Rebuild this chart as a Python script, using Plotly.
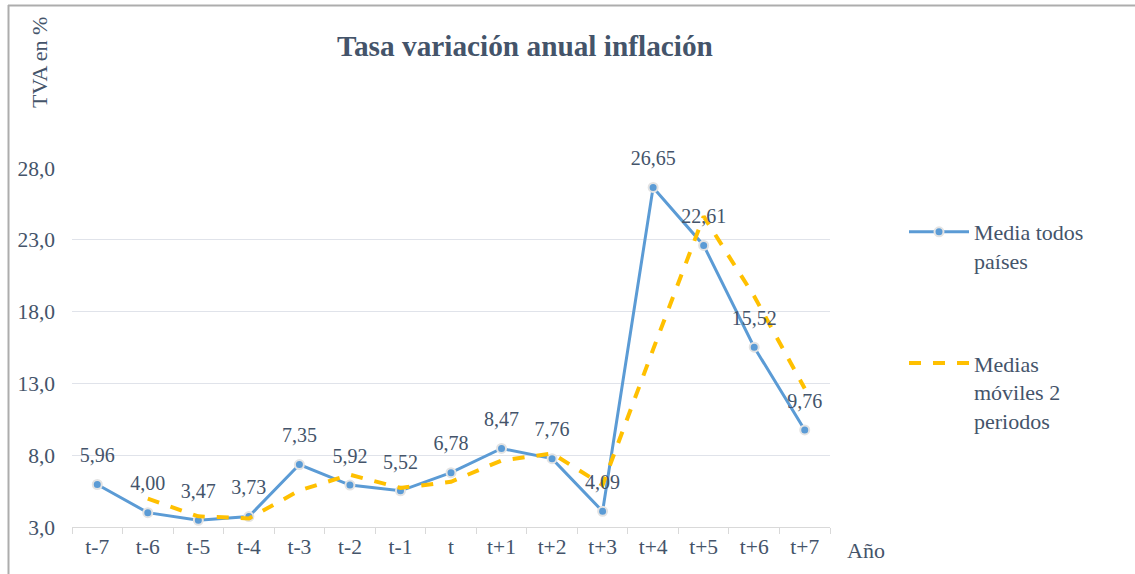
import plotly.graph_objects as go

categories = ["t-7", "t-6", "t-5", "t-4", "t-3", "t-2", "t-1", "t",
              "t+1", "t+2", "t+3", "t+4", "t+5", "t+6", "t+7"]
media_todos = [5.96, 4.00, 3.47, 3.73, 7.35, 5.92, 5.52, 6.78,
               8.47, 7.76, 4.09, 26.65, 22.61, 15.52, 9.76]
medias_moviles = [None, 4.98, 3.74, 3.60, 5.54, 6.64, 5.72, 6.15,
                  7.63, 8.12, 5.93, 15.37, 24.63, 19.07, 12.64]
labels_media = ["5,96", "4,00", "3,47", "3,73", "7,35", "5,92", "5,52", "6,78",
                "8,47", "7,76", "4,09", "26,65", "22,61", "15,52", "9,76"]
y_ticks = [3.0, 8.0, 13.0, 18.0, 23.0, 28.0]
y_tick_labels = ["3,0", "8,0", "13,0", "18,0", "23,0", "28,0"]

W, H = 1135, 574
ML, MR, MT, MB = 72, 305, 168, 47
PW, PH = W - ML - MR, H - MT - MB

def px(x):
    return (x - ML) / PW

def py(y):
    return (H - MB - y) / PH

FONT = "Liberation Serif"
TXT = "#44546A"

fig = go.Figure()
fig.add_trace(go.Scatter(
    x=categories, y=media_todos, name="Media todos<br>países",
    mode="lines+markers",
    line=dict(color="#5B9BD5", width=3),
    marker=dict(size=9, color="#5B9BD5", line=dict(color="#E3E3E3", width=2)),
    legendgroup="a", cliponaxis=False, hoverinfo="skip",
))
fig.add_trace(go.Scatter(
    x=categories, y=medias_moviles, name="Medias<br>móviles 2<br>periodos",
    mode="lines", line=dict(color="#FFC000", width=4, dash="dash"),
    legendgroup="b", cliponaxis=False, hoverinfo="skip",
))
fig.add_trace(go.Scatter(
    x=categories, y=media_todos, mode="markers+text", text=labels_media,
    textposition="top center", showlegend=False, hoverinfo="skip",
    textfont=dict(family=FONT, size=20, color=TXT), cliponaxis=False,
    marker=dict(size=26, color="rgba(0,0,0,0)"),
))

fig.update_layout(
    width=W, height=H, margin=dict(l=ML, r=MR, t=MT, b=MB, autoexpand=False),
    paper_bgcolor="white", plot_bgcolor="white",
    font=dict(family=FONT, size=21, color=TXT),
    title=dict(text="<b>Tasa variación anual inflación</b>", x=525 / W, xanchor="center",
               y=1 - 46 / H, yanchor="middle", font=dict(family=FONT, size=29.3, color=TXT)),
    showlegend=True,
    hovermode=False,
    legend=dict(xref="container", yref="container", x=904 / W, xanchor="left",
                y=1 - 211 / H, yanchor="top", itemwidth=60,
                font=dict(family=FONT, size=22, color=TXT), valign="top",
                tracegroupgap=71, bgcolor="rgba(0,0,0,0)"),
    xaxis=dict(type="category", range=[-0.5, len(categories) - 0.5],
               showgrid=False, showline=True, linecolor="#D9D9D9",
               linewidth=1, ticks="outside", tickson="boundaries", ticklen=6,
               tickcolor="#D9D9D9", tickfont=dict(family=FONT, size=21.5, color=TXT),
               automargin=False),
    yaxis=dict(range=[3, 28], tickvals=y_ticks, ticktext=y_tick_labels,
               showgrid=True, gridcolor="#E0E3EA", gridwidth=1, zeroline=False,
               showline=False, ticks="", ticklabelstandoff=16,
               tickfont=dict(family=FONT, size=21.5, color=TXT),
               automargin=False),
    annotations=[
        dict(text="TVA en %", xref="paper", yref="paper", x=px(40), y=py(63),
             xanchor="center", yanchor="middle", textangle=-90, showarrow=False,
             font=dict(family=FONT, size=22, color=TXT)),
        dict(text="Año", xref="paper", yref="paper", x=px(845), y=py(550),
             xanchor="left", yanchor="middle", showarrow=False,
             font=dict(family=FONT, size=22, color=TXT)),
    ],
    shapes=[
        dict(type="line", xref="paper", yref="paper", x0=px(8), x1=px(W + 5),
             y0=py(5.5), y1=py(5.5), line=dict(color="#ADADAD", width=2)),
        dict(type="line", xref="paper", yref="paper", x0=px(8.5), x1=px(8.5),
             y0=py(5), y1=py(H + 5), line=dict(color="#ADADAD", width=2)),
    ],
)

fig.write_html("out.html", config={"displayModeBar": False},
               post_script="document.body.style.margin='0';")
